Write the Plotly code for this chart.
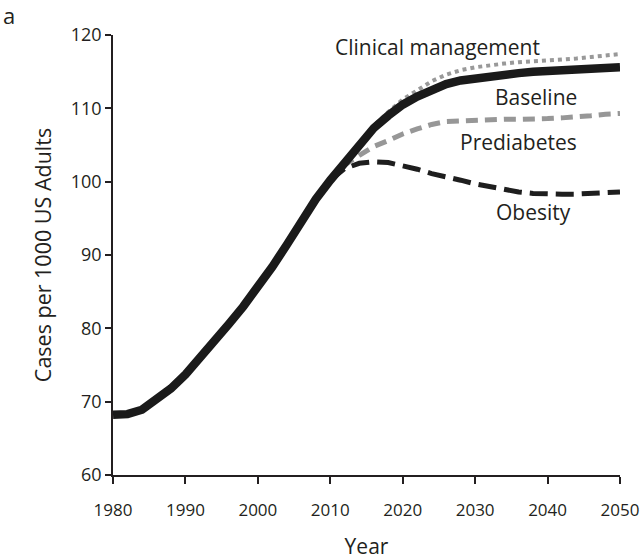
import plotly.graph_objects as go

years = [1980, 1982, 1984, 1986, 1988, 1990, 1992, 1994, 1996, 1998, 2000, 2002, 2004,
         2006, 2008, 2010, 2012, 2014, 2016, 2018, 2020, 2022, 2024, 2026, 2028, 2030,
         2032, 2034, 2036, 2038, 2040, 2042, 2044, 2046, 2048, 2050]
baseline = [68.2, 68.3, 68.9, 70.2, 71.8, 73.7, 75.9, 78.3, 80.6, 83.0, 85.5, 88.4, 91.4,
            94.6, 97.6, 100.2, 102.7, 105.0, 107.3, 109.0, 110.5, 111.6, 112.6, 113.3, 113.8,
            114.1, 114.4, 114.6, 114.8, 115.0, 115.1, 115.2, 115.3, 115.4, 115.5, 115.6]

scen_years = [2010, 2012, 2014, 2016, 2018, 2020, 2022, 2024, 2026, 2028, 2030,
              2032, 2034, 2036, 2038, 2040, 2042, 2044, 2046, 2048, 2050]
clinical = [100.2, 102.8, 105.2, 107.6, 109.5, 111.2, 112.5, 113.7, 114.6, 115.2, 115.6,
            115.9, 116.1, 116.3, 116.4, 116.5, 116.6, 116.8, 117.0, 117.2, 117.4]
prediabetes = [100.2, 102.3, 103.6, 104.8, 105.6, 106.5, 107.2, 107.8, 108.2, 108.3, 108.4,
               108.4, 108.5, 108.5, 108.5, 108.6, 108.7, 108.8, 109.0, 109.2, 109.3]
obesity = [100.2, 101.8, 102.5, 102.7, 102.6, 102.2, 101.7, 101.1, 100.7, 100.2, 99.7,
           99.3, 98.9, 98.6, 98.4, 98.3, 98.3, 98.3, 98.4, 98.5, 98.6]

x_ticks = [1980, 1990, 2000, 2010, 2020, 2030, 2040, 2050]
y_ticks = [60, 70, 80, 90, 100, 110, 120]

FONT = "Open Sans"
TXT = "#231f20"
fig = go.Figure()
fig.add_trace(go.Scatter(x=scen_years, y=obesity, mode="lines",
                         line=dict(color="#1e1e1e", width=5, dash="18px,8px")))
fig.add_trace(go.Scatter(x=scen_years, y=prediabetes, mode="lines",
                         line=dict(color="#979797", width=5, dash="12px,7px")))
fig.add_trace(go.Scatter(x=scen_years, y=clinical, mode="lines",
                         line=dict(color="#999999", width=4, dash="dot")))
fig.add_trace(go.Scatter(x=years, y=baseline, mode="lines",
                         line=dict(color="#1a1a1a", width=8.5)))

labels = [("Clinical management", 2024.8, 118.3),
          ("Baseline", 2038.4, 111.6),
          ("Prediabetes", 2036.0, 105.4),
          ("Obesity", 2038.0, 95.8)]
for txt, xv, yv in labels:
    fig.add_annotation(x=xv, y=yv, text=txt, showarrow=False,
                       font=dict(family=FONT, size=21, color=TXT))

fig.add_annotation(x=0, y=1, xref="paper", yref="paper", xanchor="left", yanchor="top",
                   text="a", showarrow=False, xshift=1, yshift=2,
                   font=dict(family=FONT, size=22, color=TXT))
W, H = 640, 560
L, R, T, B = 113, 20, 35, 85
fig.update_layout(
    width=W, height=H,
    margin=dict(l=L, r=R, t=T, b=B, autoexpand=False),
    paper_bgcolor="white", plot_bgcolor="white",
    showlegend=False,
    font=dict(family=FONT, size=18, color=TXT),
)
pw, ph = W - L - R, H - T - B
fig.layout.annotations[-1].update(x=-L / pw, y=1 + T / ph)
fig.update_xaxes(range=[1980, 2050], tickvals=x_ticks, ticks="outside", ticklen=7,
                 tickwidth=1.5, tickcolor=TXT, showline=True, linecolor=TXT,
                 linewidth=1.5, showgrid=False, zeroline=False, automargin=False,
                 ticklabeloverflow="allow", ticklabelstandoff=12,
                 title=dict(text="Year", font=dict(size=21), standoff=19),
                 tickfont=dict(size=17))
fig.update_yaxes(range=[60, 120], tickvals=y_ticks, ticks="outside", ticklen=6,
                 tickwidth=1.5, tickcolor=TXT, showline=True, linecolor=TXT,
                 linewidth=1.5, showgrid=False, zeroline=False, automargin=False,
                 title=dict(text="Cases per 1000 US Adults", font=dict(size=21.5), standoff=13),
                 tickfont=dict(size=18))
fig.write_html("out.html", config={"displayModeBar": False},
               post_script="document.body.style.margin='0';")
